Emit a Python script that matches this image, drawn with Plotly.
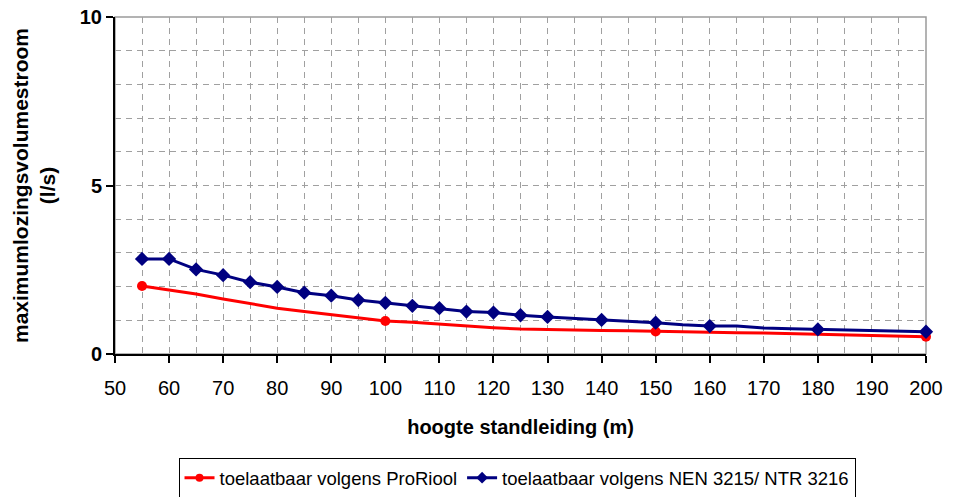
import plotly.graph_objects as go

# standpipe height (m)
hoogte = [55, 60, 65, 70, 75, 80, 85, 90, 95, 100, 105, 110, 115, 120, 125,
          130, 135, 140, 145, 150, 155, 160, 165, 170, 175, 180, 185, 190, 195, 200]

# maximum discharge flow (l/s)
prorioel = [2.02, 1.90, 1.78, 1.63, 1.50, 1.36, 1.26, 1.16, 1.07, 0.98,
            0.94, 0.88, 0.83, 0.78, 0.74, 0.72, 0.71, 0.70, 0.69, 0.67,
            0.66, 0.645, 0.63, 0.62, 0.60, 0.59, 0.57, 0.555, 0.535, 0.51]
nen = [2.82, 2.82, 2.51, 2.34, 2.13, 1.99, 1.82, 1.73, 1.60, 1.52,
       1.43, 1.36, 1.26, 1.23, 1.15, 1.10, 1.06, 1.01, 0.97, 0.93,
       0.87, 0.83, 0.83, 0.77, 0.75, 0.73, 0.72, 0.70, 0.68, 0.66]

# heights where a marker is shown
prorioel_marked = [55, 100, 150, 200]
nen_marked = [55, 60, 65, 70, 75, 80, 85, 90, 95, 100, 105, 110, 115, 120,
              125, 130, 140, 150, 160, 180, 200]

font = "Liberation Sans, Arial, sans-serif"
grid = dict(showgrid=True, gridcolor="#a0a0a0", griddash="6px,5px", gridwidth=1)

series = [
    ("toelaatbaar volgens ProRiool", prorioel, prorioel_marked, "#ff0000", "circle", 10),
    ("toelaatbaar volgens NEN 3215/ NTR 3216", nen, nen_marked, "#000080", "diamond", 11),
]

fig = go.Figure()
for name, values, marked, color, symbol, msize in series:
    mx = [h for h in hoogte if h in marked]
    my = [v for h, v in zip(hoogte, values) if h in marked]
    fig.add_trace(go.Scatter(x=hoogte, y=values, mode="lines", showlegend=False,
                             line=dict(color=color, width=3), hoverinfo="skip"))
    fig.add_trace(go.Scatter(x=mx, y=my, mode="markers", showlegend=False,
                             cliponaxis=False,
                             marker=dict(symbol=symbol, color=color, size=msize,
                                         opacity=1, line=dict(width=0))))
    # legend entry
    fig.add_trace(go.Scatter(x=[None], y=[None], mode="lines+markers", name=name,
                             line=dict(color=color, width=3),
                             marker=dict(symbol=symbol, color=color, size=msize - 2,
                                         line=dict(width=0))))

fig.update_layout(
    width=955, height=497,
    margin=dict(l=115, r=29, t=17, b=143),
    paper_bgcolor="white", plot_bgcolor="white",
    font=dict(family=font, color="black", size=18),
    showlegend=True,
    legend=dict(orientation="h", x=0.4957, xanchor="center",
                yref="container", y=0.038, yanchor="middle",
                bordercolor="black", borderwidth=1, font=dict(size=18.5),
                tracegroupgap=0),
    shapes=[dict(type="rect", xref="paper", yref="paper", x0=0, y0=0, x1=1, y1=1,
                 line=dict(color="#9a9a9a", width=1.5), layer="below")],
)

fig.update_xaxes(
    range=[50, 200], dtick=10, tick0=50, automargin=False,
    showline=True, linecolor="black", linewidth=2,
    ticks="outside", ticklen=7, tickwidth=2, tickcolor="black",
    tickfont=dict(size=20), ticklabelstandoff=8,
    minor=dict(dtick=5, **grid), **grid,
    zeroline=False,
    title=dict(text="<b>hoogte standleiding (m)</b>", font=dict(size=20), standoff=22),
)
fig.update_yaxes(
    range=[0, 10], dtick=5, automargin=False,
    showline=True, linecolor="black", linewidth=2,
    ticks="outside", ticklen=7, tickwidth=2, tickcolor="black",
    tickfont=dict(size=20), tickprefix="<b>", ticksuffix="</b>",
    minor=dict(dtick=1, **grid), **grid,
    zeroline=False,
    title=dict(text="<b>maximumlozingsvolumestroom<br>(l/s)</b>", font=dict(size=21), standoff=18),
)

fig.write_html("out.html")
